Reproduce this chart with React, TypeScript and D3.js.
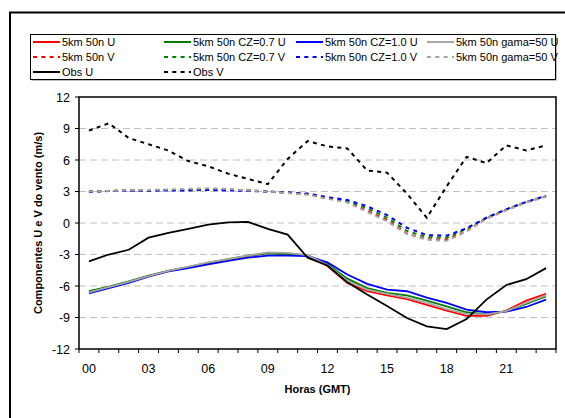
import React from "react";
import * as d3 from "d3";

const WIDTH = 565;
const HEIGHT = 418;
const MARGIN = { top: 97, right: 9, bottom: 69, left: 79 };

const hours = d3.range(24).map((h) => String(h).padStart(2, "0"));
const yTicks = [-12, -9, -6, -3, 0, 3, 6, 9, 12];

// U components
const u50n = [-6.6, -6.1, -5.6, -5.05, -4.55, -4.2, -3.8, -3.5, -3.15, -2.85, -2.9, -3.1, -4.1, -5.7, -6.5, -6.9, -7.25, -7.8, -8.35, -8.85, -8.85, -8.35, -7.4, -6.75];
const uCz07 = [-6.5, -6.05, -5.55, -5.0, -4.55, -4.2, -3.8, -3.45, -3.1, -2.9, -3.0, -3.05, -3.9, -5.3, -6.2, -6.65, -6.9, -7.4, -7.95, -8.5, -8.7, -8.4, -7.7, -7.0];
const uCz10 = [-6.7, -6.2, -5.7, -5.1, -4.6, -4.3, -3.95, -3.6, -3.3, -3.1, -3.1, -3.15, -3.75, -4.9, -5.8, -6.35, -6.5, -7.1, -7.6, -8.25, -8.5, -8.45, -8.0, -7.3];
const uGama = [-6.6, -6.1, -5.6, -5.05, -4.55, -4.15, -3.75, -3.45, -3.1, -2.8, -2.85, -3.05, -4.0, -5.5, -6.35, -6.75, -7.1, -7.6, -8.2, -8.65, -8.7, -8.4, -7.6, -6.9];
const obsU = [-3.65, -3.0, -2.55, -1.4, -0.95, -0.55, -0.15, 0.05, 0.1, -0.55, -1.1, -3.3, -4.05, -5.65, -6.8, -7.9, -9.05, -9.85, -10.1, -9.15, -7.3, -5.9, -5.35, -4.3];

// V components
const v50n = [3.0, 3.05, 3.1, 3.1, 3.15, 3.15, 3.2, 3.2, 3.1, 3.0, 2.9, 2.75, 2.35, 2.0, 1.15, 0.25, -1.0, -1.55, -1.6, -0.75, 0.45, 1.25, 2.0, 2.55];
const vCz07 = [3.0, 3.05, 3.1, 3.1, 3.15, 3.15, 3.2, 3.15, 3.1, 3.0, 2.9, 2.75, 2.4, 2.1, 1.4, 0.5, -0.75, -1.35, -1.4, -0.55, 0.5, 1.3, 2.0, 2.55];
const vCz10 = [2.95, 3.05, 3.05, 3.1, 3.1, 3.1, 3.15, 3.1, 3.05, 3.0, 2.9, 2.8, 2.45, 2.2, 1.6, 0.75, -0.45, -1.15, -1.2, -0.5, 0.5, 1.3, 2.0, 2.6];
const vGama = [3.0, 3.05, 3.1, 3.15, 3.2, 3.25, 3.3, 3.25, 3.1, 3.0, 2.85, 2.7, 2.3, 1.95, 1.05, 0.15, -1.05, -1.6, -1.7, -0.8, 0.4, 1.2, 1.95, 2.5];
const obsV = [8.8, 9.5, 8.1, 7.5, 6.9, 5.9, 5.4, 4.7, 4.2, 3.7, 6.1, 7.8, 7.3, 7.1, 5.0, 4.8, 2.8, 0.5, 3.5, 6.3, 5.7, 7.4, 6.9, 7.4];

type Series = { name: string; values: number[]; color: string; dashed: boolean };

const series: Series[] = [
  { name: "5km 50n U", values: u50n, color: "#FF0000", dashed: false },
  { name: "5km 50n CZ=0.7 U", values: uCz07, color: "#008000", dashed: false },
  { name: "5km 50n CZ=1.0 U", values: uCz10, color: "#0000FF", dashed: false },
  { name: "5km 50n gama=50 U", values: uGama, color: "#A6A6A6", dashed: false },
  { name: "5km 50n V", values: v50n, color: "#FF0000", dashed: true },
  { name: "5km 50n CZ=0.7 V", values: vCz07, color: "#008000", dashed: true },
  { name: "5km 50n CZ=1.0 V", values: vCz10, color: "#0000FF", dashed: true },
  { name: "5km 50n gama=50 V", values: vGama, color: "#A6A6A6", dashed: true },
  { name: "Obs U", values: obsU, color: "#000000", dashed: false },
  { name: "Obs V", values: obsV, color: "#000000", dashed: true },
];

const FONT = "Arial, 'Liberation Sans', sans-serif";

export default function App() {
  const x0 = MARGIN.left;
  const x1 = WIDTH - MARGIN.right;
  const y0 = MARGIN.top;
  const y1 = HEIGHT - MARGIN.bottom;

  const xScale = d3.scaleBand().domain(hours).range([x0, x1]);
  const yScale = d3.scaleLinear().domain([-12, 12]).range([y1, y0]);

  const line = d3
    .line<number>()
    .x((_, i) => (xScale(hours[i]) ?? 0) + xScale.bandwidth() / 2)
    .y((d) => yScale(d));

  const legendCols = [33, 164, 296, 427];
  const legendRows = [42, 57, 72];

  return (
    <svg
      width={WIDTH}
      height={HEIGHT}
      style={{ position: "absolute", left: 0, top: 0, background: "#fff" }}
      fontFamily={FONT}
    >
      {/* outer chart frame */}
      <rect x={10} y={12.5} width={WIDTH} height={HEIGHT} fill="none" stroke="#000" strokeWidth={2} />

      {/* legend */}
      <rect x={31.5} y={35.5} width={525} height={45} fill="#808080" />
      <rect x={30.5} y={34.5} width={525} height={45} fill="#fff" stroke="#000" strokeWidth={1} />
      {series.map((s, i) => {
        const col = i < 8 ? i % 4 : i - 8;
        const row = i < 8 ? Math.floor(i / 4) : 2;
        const lx = legendCols[col];
        const ly = legendRows[row];
        return (
          <g key={s.name}>
            <line
              x1={lx}
              x2={lx + 27}
              y1={ly}
              y2={ly}
              stroke={s.color}
              strokeWidth={2}
              strokeDasharray={s.dashed ? "4,4.3" : undefined}
            />
            <text x={lx + 29} y={ly + 4} fontSize={11}>
              {s.name}
            </text>
          </g>
        );
      })}

      {/* gridlines */}
      {yTicks
        .filter((t) => t !== 12 && t !== -12)
        .map((t) => (
          <line
            key={t}
            x1={x0}
            x2={x1}
            y1={yScale(t)}
            y2={yScale(t)}
            stroke="#C0C0C0"
            strokeWidth={1}
            strokeDasharray="7,4"
          />
        ))}

      {/* series */}
      {series.map((s) => (
        <path
          key={s.name}
          d={line(s.values) || ""}
          fill="none"
          stroke={s.color}
          strokeWidth={s.dashed ? 2 : 1.8}
          strokeDasharray={s.dashed ? "4,4.3" : undefined}
        />
      ))}

      {/* plot frame */}
      <rect x={x0} y={y0} width={x1 - x0} height={y1 - y0} fill="none" stroke="#000" strokeWidth={1.5} />

      {/* y axis ticks and labels */}
      {yTicks.map((t) => (
        <g key={t}>
          <line x1={x0 - 4} x2={x0} y1={yScale(t)} y2={yScale(t)} stroke="#000" strokeWidth={1} />
          <text x={x0 - 9} y={yScale(t) + 4.5} fontSize={12.5} textAnchor="end">
            {t}
          </text>
        </g>
      ))}

      {/* x axis ticks and labels */}
      {hours.concat(["end"]).map((h, i) => {
        const tx = x0 + i * xScale.step();
        return <line key={h} x1={tx} x2={tx} y1={y1} y2={y1 + 4} stroke="#000" strokeWidth={1} />;
      })}
      {hours
        .filter((_, i) => i % 3 === 0)
        .map((h) => (
          <text
            key={h}
            x={(xScale(h) ?? 0) + xScale.bandwidth() / 2}
            y={373}
            fontSize={12.5}
            textAnchor="middle"
          >
            {h}
          </text>
        ))}

      {/* axis titles */}
      <text x={(x0 + x1) / 2} y={393} fontSize={11} fontWeight="bold" textAnchor="middle">
        Horas (GMT)
      </text>
      <text
        transform={`translate(42, ${(y0 + y1) / 2}) rotate(-90)`}
        fontSize={11}
        fontWeight="bold"
        textAnchor="middle"
      >
        Componentes U e V do vento (m/s)
      </text>
    </svg>
  );
}
